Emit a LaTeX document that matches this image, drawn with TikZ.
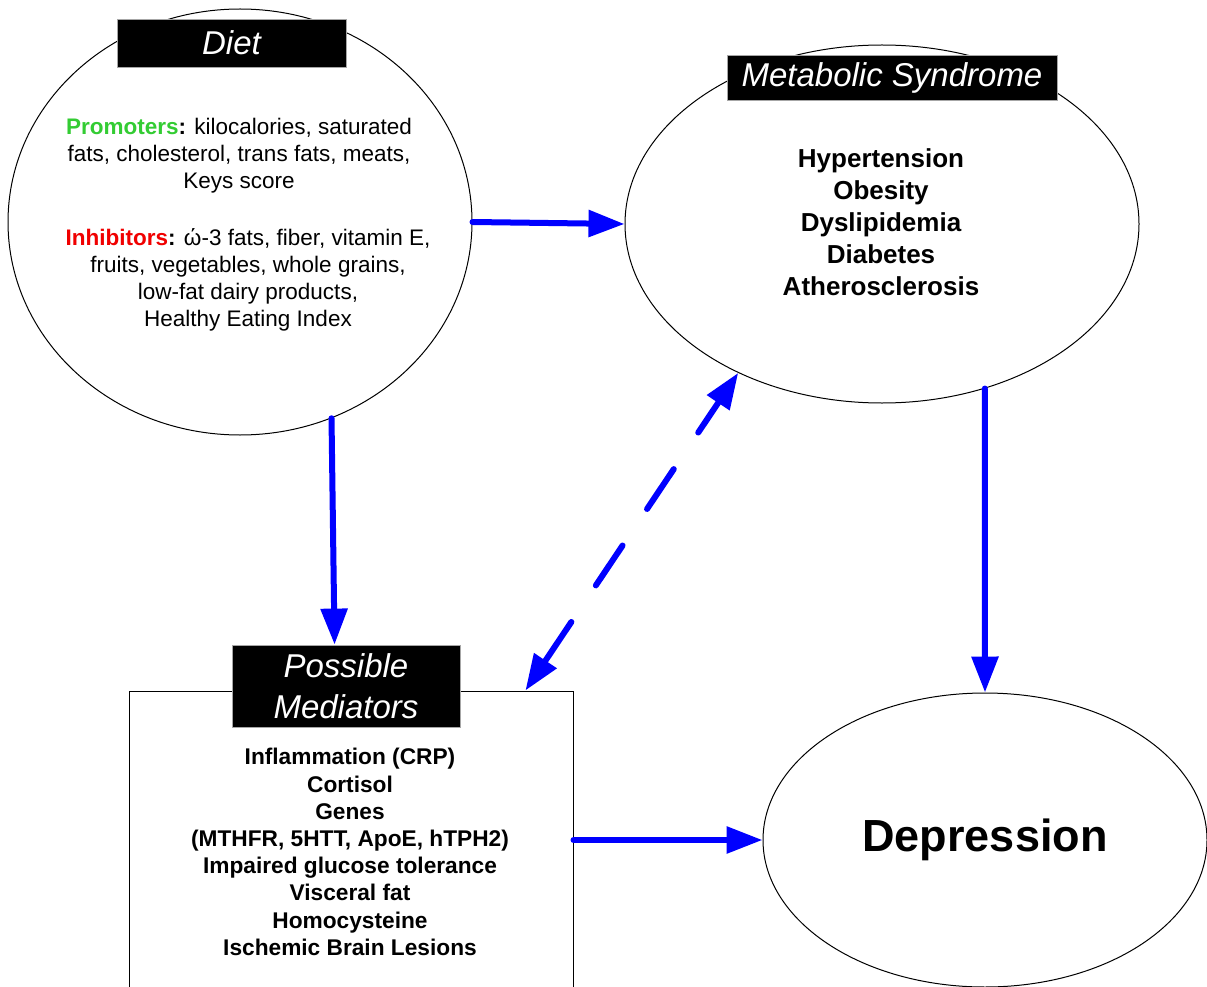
\documentclass[tikz,border=0pt]{standalone}
\usepackage{fontspec}
\setmainfont{Liberation Sans}
\usetikzlibrary{arrows.meta,shapes.geometric,calc}
\definecolor{arrowblue}{RGB}{0,0,255}
\definecolor{promgreen}{RGB}{51,204,51}
\definecolor{inhred}{RGB}{240,0,0}
\begin{document}
\begin{tikzpicture}[x=1pt,y=-1pt,
  oval/.style={draw=black, line width=1pt, ellipse, inner sep=0pt},
  tag/.style={fill=black, draw=gray!70, line width=0.8pt, text=white,
    font=\fontsize{33}{41}\selectfont\itshape, inner sep=0pt, align=center},
  body/.style={font=\fontsize{22.5}{27}\selectfont, align=center, anchor=base},
  flow/.style={draw=arrowblue, line width=6pt, line cap=round,
    -{Triangle[length=36pt,width=26pt]}},
  dflow/.style={draw=arrowblue, line width=6pt, line cap=round,
    dash pattern=on 48pt off 44pt,
    {Triangle[length=36pt,width=26pt]}-{Triangle[length=36pt,width=26pt]}},
]
\useasboundingbox (0,0) rectangle (1207,987);
\clip (0,0) rectangle (1207,987);
\fill[white] (0,0) rectangle (1207,987);

% shapes
\node[oval, minimum width=464pt, minimum height=426pt] (diet) at (240,222) {};
\node[oval, minimum width=514pt, minimum height=358pt] (meta) at (882,224) {};
\node[oval, minimum width=444pt, minimum height=294pt] (dep) at (985,840) {};
\node[draw=black, line width=1pt, minimum width=444pt, minimum height=298pt, inner sep=0pt] (medbox) at (351,840) {};

% texts
\node[body] (promtext) at (239,189)
  {\textbf{\textcolor{promgreen}{Promoters}:} kilocalories, saturated\\
   fats, cholesterol, trans fats, meats,\\
   Keys score};
\node[body] (inhtext) at (248,326)
  {\textbf{\textcolor{inhred}{Inhibitors}:} ώ-3 fats, fiber, vitamin E,\\
   fruits, vegetables, whole grains,\\
   low-fat dairy products,\\
   Healthy Eating Index};
\node[font=\fontsize{26}{32}\selectfont\bfseries, align=center] (metatext) at (881,222)
  {Hypertension\\Obesity\\Dyslipidemia\\Diabetes\\Atherosclerosis};
\node[font=\fontsize{45}{54}\selectfont\bfseries] (deptext) at (985,840) {Depression};
\node[font=\fontsize{22.7}{27.2}\selectfont\bfseries, align=center] (medtext) at (350,852)
  {Inflammation (CRP)\\Cortisol\\Genes\\(MTHFR, 5HTT, ApoE, hTPH2)\\Impaired glucose tolerance\\Visceral fat\\Homocysteine\\Ischemic Brain Lesions};

% labels
\node[tag, minimum width=229pt, minimum height=48pt] (dietlabel) at (231.5,43) {Diet};
\node[tag, minimum width=330pt, minimum height=45pt] (metalabel) at (892,77.5) {Metabolic Syndrome};
\node[tag, minimum width=228pt, minimum height=82pt] (medlabel) at (346,686) {Possible\\Mediators};

% connectors
\draw[flow] (diet.east) -- (meta.west);
\draw[flow] (diet.-65.3) -- ($(medlabel.north west)!0.45!(medlabel.north east)$);
\draw[flow] (meta.-58) -- (dep.north);
\draw[flow] (medbox.east) -- (dep.west);
\draw[dflow] ($(medbox.north west)!0.892!(medbox.north east)$) -- (meta.-134);
\end{tikzpicture}
\end{document}
